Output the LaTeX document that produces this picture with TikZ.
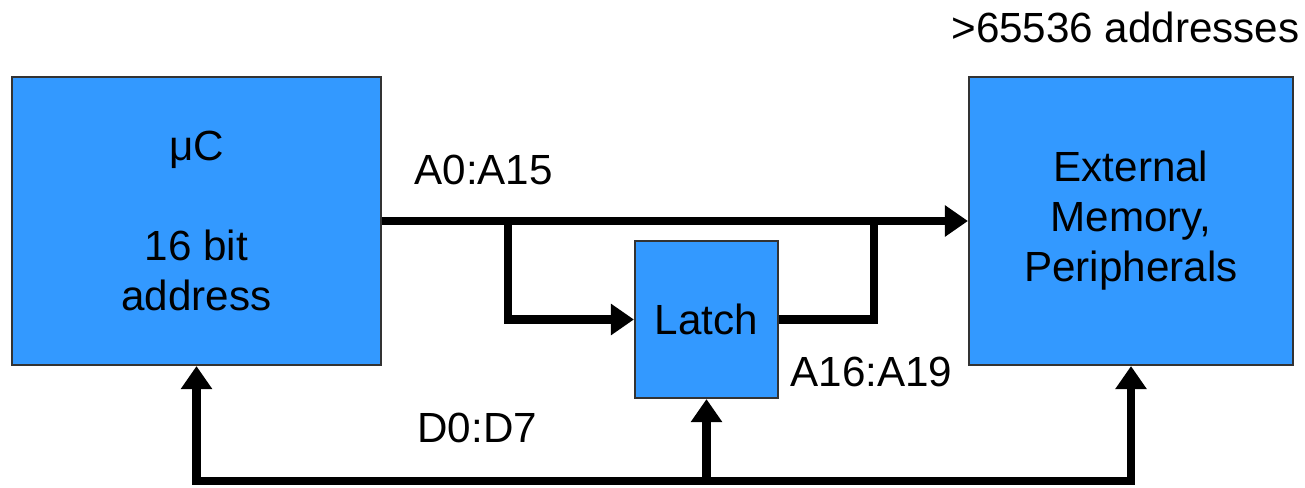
\documentclass[tikz,border=0pt]{standalone}
\usepackage{fontspec}
\setmainfont{Liberation Sans}
\usepackage{xcolor}
\usetikzlibrary{arrows.meta,calc,positioning}
\definecolor{boxblue}{HTML}{3399FF}

\begin{document}
\begin{tikzpicture}[>={Triangle[length=2.3mm,width=3mm]},
    font=\fontsize{12}{14.2}\selectfont,
    unit/.style={draw=black!80,line width=0.6pt,fill=boxblue,
      inner sep=0pt,align=center},
    bus/.style={line width=2.4pt}]

    \useasboundingbox (0,0) rectangle (13.05,-4.88);

    \node[unit,minimum width=36.9mm,minimum height=28.8mm] (uc)
      at (1.965,-2.21) {μC\\ \\16 bit\\address};
    \node[unit,minimum width=32.4mm,minimum height=28.8mm] (mem)
      at (11.31,-2.21) {External\\Memory,\\Peripherals};
    \node[unit,minimum width=14.3mm,minimum height=15.7mm] (latch)
      at (7.065,-3.195) {Latch};

    \node[anchor=west] (addrlow) at (4.02,-1.70) {A0:A15};
    \node[anchor=west] (addrhigh) at (7.78,-3.72) {A16:A19};
    \node[anchor=west] (datalbl) at (4.05,-4.28) {D0:D7};
    \node[anchor=east] (range) at (13.12,-0.27) {>65536 addresses};

    % address bus and latch
    \coordinate (tapL) at (5.08,-2.21);
    \coordinate (tapR) at (8.74,-2.21);
    \draw[bus,->] (uc.east) -- (mem.west);
    \draw[bus,->] (tapL) |- (latch.west);
    \draw[bus] (latch.east) -| (tapR);

    % data bus
    \coordinate (databus) at (0,-4.81);
    \draw[bus,<->] (uc.south) -- (uc.south |- databus)
      -- (mem.south |- databus) -- (mem.south);
    \draw[bus,->] (latch.south |- databus) -- (latch.south);
  \end{tikzpicture}
\end{document}
